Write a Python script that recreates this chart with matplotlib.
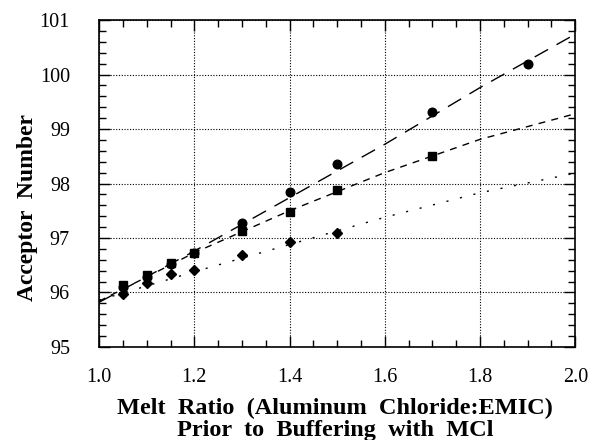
import numpy as np
import matplotlib.pyplot as plt
from matplotlib.ticker import MultipleLocator

plt.rcParams['font.family'] = ['Liberation Serif', 'DejaVu Serif']

# data
x_circle = [1.05, 1.10, 1.15, 1.20, 1.30, 1.40, 1.50, 1.70, 1.90]
y_circle = [96.10, 96.28, 96.52, 96.72, 97.28, 97.84, 98.35, 99.32, 100.19]

x_square = [1.05, 1.10, 1.15, 1.20, 1.30, 1.40, 1.50, 1.70]
y_square = [96.14, 96.32, 96.54, 96.72, 97.13, 97.48, 97.88, 98.51]

x_diamond = [1.05, 1.10, 1.15, 1.20, 1.30, 1.40, 1.50]
y_diamond = [95.97, 96.17, 96.34, 96.42, 96.69, 96.92, 97.09]

# fitted curves as traced on the figure
x_fit = [1.0, 1.2, 1.4, 1.6, 1.8, 2.0]
fit_circle = [95.82, 96.76, 97.74, 98.72, 99.76, 100.74]
fit_square = [95.84, 96.73, 97.50, 98.20, 98.81, 99.28]
fit_diamond = [95.86, 96.38, 96.88, 97.38, 97.83, 98.19]

fig = plt.figure(figsize=(5.9, 4.4), dpi=100)
ax = fig.add_axes([0.168, 0.2114, 0.807, 0.7431])

ax.plot(x_fit, fit_circle, color='black', lw=1.0, dashes=(11, 7))
ax.plot(x_fit, fit_square, color='black', lw=1.0, dashes=(5, 4.5))
ax.plot(x_fit, fit_diamond, color='black', lw=1.0, dashes=(1.5, 8.5))

ax.plot(x_circle, y_circle, 'o', color='black', ms=6.2, zorder=3)
ax.plot(x_square, y_square, 's', color='black', ms=5.8, zorder=4)
ax.plot(x_diamond, y_diamond, 'D', color='black', ms=4.6, zorder=4)

ax.set_xlim(1.0, 2.0)
ax.set_ylim(95, 101)
ax.xaxis.set_major_locator(MultipleLocator(0.2))
ax.xaxis.set_minor_locator(MultipleLocator(0.05))
ax.yaxis.set_major_locator(MultipleLocator(1))
ax.yaxis.set_minor_locator(MultipleLocator(0.2))
ax.set_xticklabels([f"{v:.1f}" for v in ax.get_xticks()])

ax.tick_params(which='both', direction='in', top=True, right=True, labelsize=14.5)
ax.tick_params(which='major', length=8, width=1)
ax.tick_params(which='minor', length=5, width=1)
ax.tick_params(axis='x', pad=15)
ax.tick_params(axis='y', pad=21)
ax.grid(True, which='major', color='black', lw=0.8, linestyle=(0, (1, 1.5)))
for s in ax.spines.values():
    s.set_linewidth(1.2)

ax.set_xlabel("Melt  Ratio  (Aluminum  Chloride:EMIC)\nPrior  to  Buffering  with  MCl",
              fontsize=17.5, fontweight='bold', linespacing=1.05)
ax.xaxis.set_label_coords(0.496, -0.155)
ax.set_ylabel("Acceptor  Number", fontsize=17, fontweight='bold')
ax.yaxis.set_label_coords(-0.128, 0.428)

plt.savefig("out.png", dpi=100)
